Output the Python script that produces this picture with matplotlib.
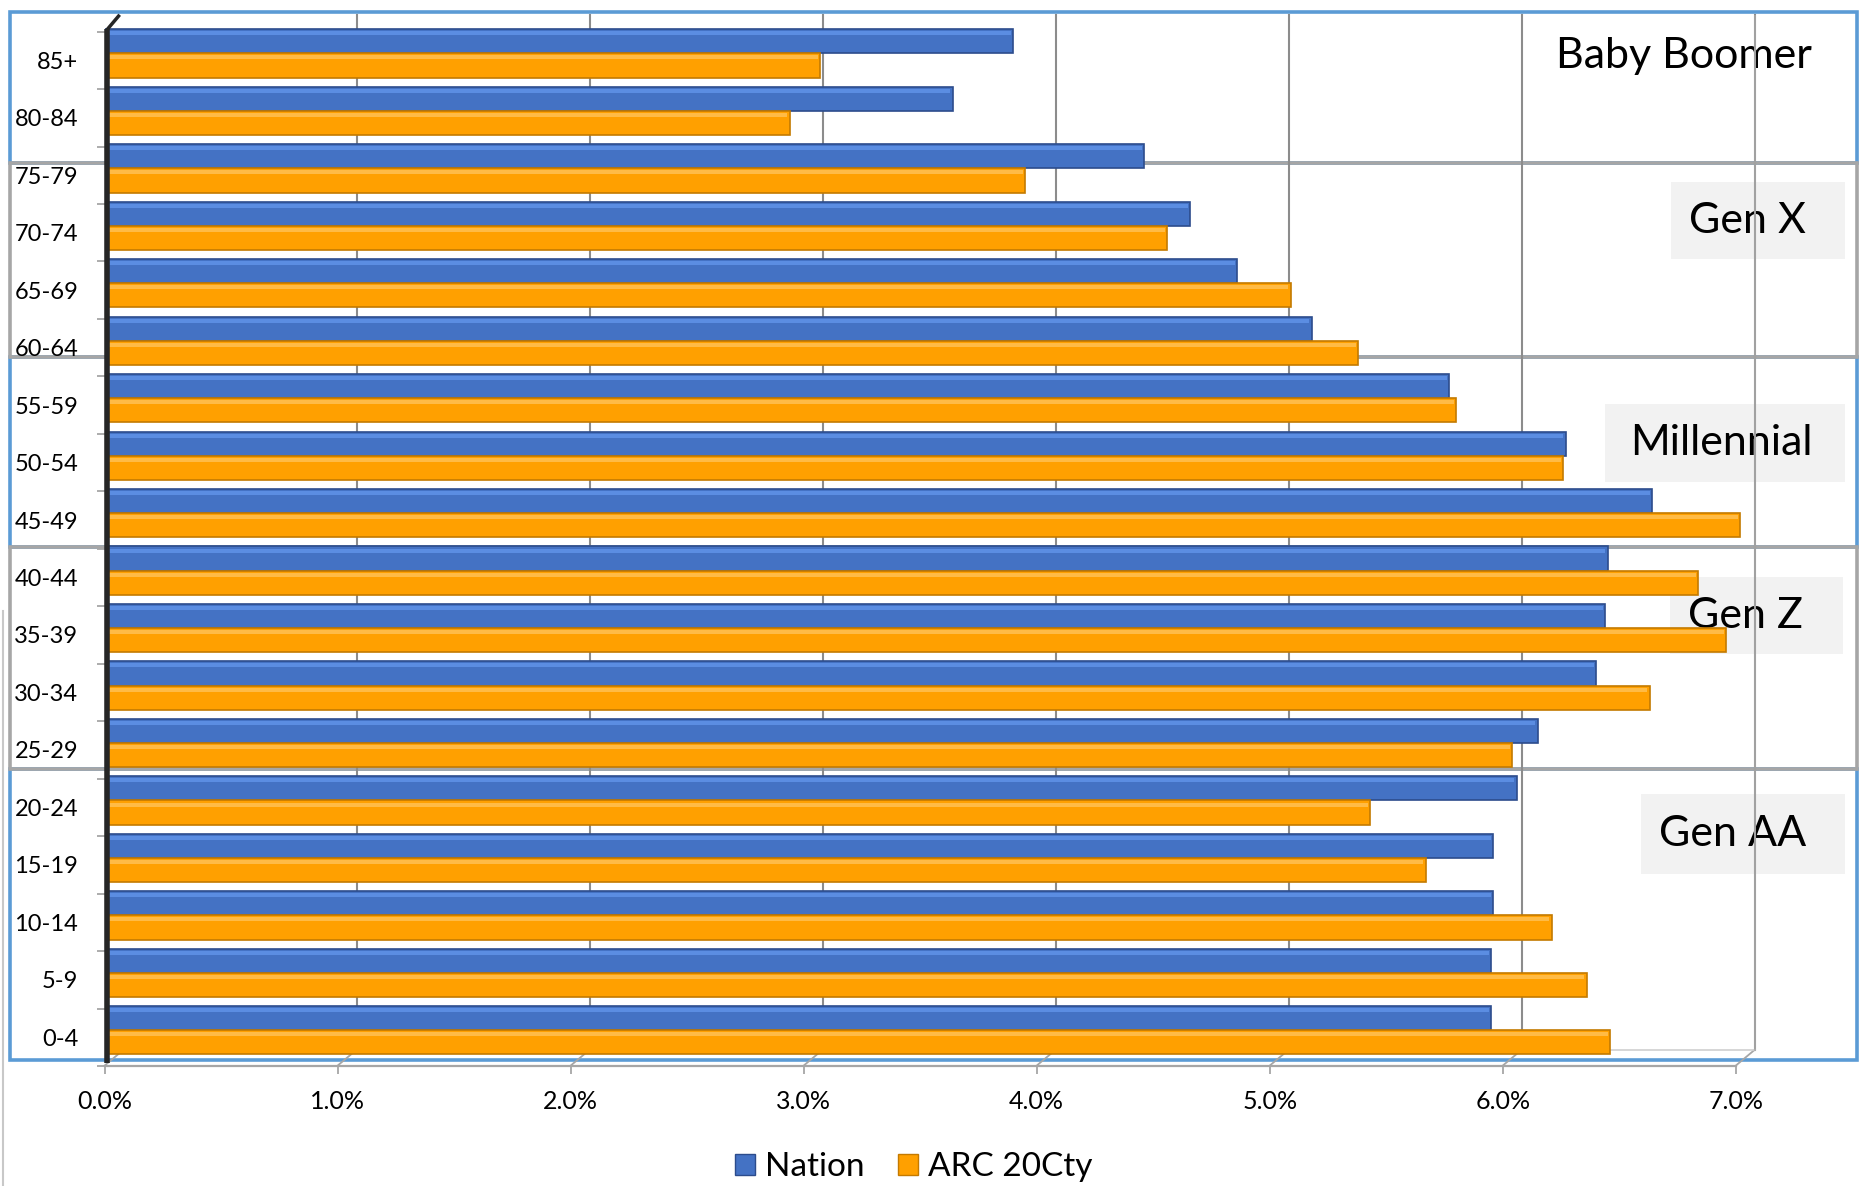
import numpy as np
import matplotlib.pyplot as plt
from matplotlib.patches import Rectangle, Patch
from matplotlib.lines import Line2D
from matplotlib.ticker import FuncFormatter

plt.rcParams['font.family'] = ['Lato', 'DejaVu Sans']

# age bands, bottom to top
ages = ['0-4', '5-9', '10-14', '15-19', '20-24', '25-29', '30-34', '35-39', '40-44',
        '45-49', '50-54', '55-59', '60-64', '65-69', '70-74', '75-79', '80-84', '85+']
# share of population, %
nation = [5.95, 5.95, 5.96, 5.96, 6.06, 6.15, 6.40, 6.44, 6.45,
          6.64, 6.27, 5.77, 5.18, 4.86, 4.66, 4.46, 3.64, 3.90]
arc = [6.46, 6.36, 6.21, 5.67, 5.43, 6.04, 6.63, 6.96, 6.84,
       7.02, 6.26, 5.80, 5.38, 5.09, 4.56, 3.95, 2.94, 3.07]
x_ticks = [0, 1, 2, 3, 4, 5, 6, 7]
gen_names = ['Baby Boomer', 'Gen X', 'Millennial', 'Gen Z', 'Gen AA']

# colours
BLUE, BLUE_EDGE, BLUE_HI = '#4472c4', '#2c4c8c', '#5b8de2'
ORANGE, ORANGE_EDGE, ORANGE_HI = '#ffa000', '#c47a00', '#ffbb45'
FRAME_BLUE, FRAME_GREY = '#5b9bd5', '#a6a6a6'

fig = plt.figure(figsize=(18.64, 11.86), dpi=100)
ax = fig.add_axes([0.0561, 0.1012, 0.8876, 0.8862])
ax.set_facecolor('none')

y = np.arange(len(ages))
h = 0.42
depth = 0.082       # fake 3d depth of the back wall, in x units
label_shift = 0.12  # tick labels sit a bit lower than the bars
y_lo, y_hi = -0.614, 17.67
floor_back = -0.336

ax.set_xlim(0, 7.1)
ax.set_ylim(y_lo, y_hi)

# generation frames (figure fractions), drawn behind the bars
frames = [(0.8627, 0.990, FRAME_BLUE), (0.5390, 0.6993, FRAME_BLUE), (0.1062, 0.3514, FRAME_BLUE),
          (0.6993, 0.8627, FRAME_GREY), (0.3514, 0.5390, FRAME_GREY)]
for b, t, c in frames:
    ax.add_patch(Rectangle((0.0051, b), 0.9911, t - b, transform=fig.transFigure,
                           fill=False, edgecolor=c, lw=2.6, clip_on=False, zorder=0.1))

boxes = [None,
         (0.8967, 0.7815, 0.9898, 0.8466),
         (0.8610, 0.5940, 0.9898, 0.6592),
         (0.8960, 0.4487, 0.9885, 0.5138),
         (0.8801, 0.2632, 0.9898, 0.3305)]
centers = [(0.9036, 0.9529), (0.9375, 0.8136), (0.9235, 0.6261), (0.9363, 0.4808), (0.9293, 0.2964)]
for name, box, (cx, cy) in zip(gen_names, boxes, centers):
    if box is not None:
        x0, y0, x1, y1 = box
        ax.add_patch(Rectangle((x0, y0), x1 - x0, y1 - y0, transform=fig.transFigure,
                               facecolor='#f2f2f2', edgecolor='none', clip_on=False, zorder=0.2))
    ax.text(cx, cy, name, transform=fig.transFigure, ha='center', va='center',
            fontsize=31, color='black', zorder=0.3)

# back wall gridlines and floor
for t in x_ticks[1:]:
    ax.plot([t + depth, t + depth], [floor_back, y_hi], color='#8c8c8c', lw=1.5, zorder=0.5, clip_on=False)
for t in x_ticks:
    ax.plot([t, t + depth], [y_lo, floor_back], color='#a6a6a6', lw=1.3, zorder=0.5, clip_on=False)
ax.plot([0, 7], [y_lo, y_lo], color='#a6a6a6', lw=1.6, zorder=0.5, clip_on=False)
ax.plot([depth, 7 + depth], [floor_back, floor_back], color='#d0d0d0', lw=1.2, zorder=0.5)
ax.plot([7 + depth, 7 + depth], [floor_back, y_hi], color='#a6a6a6', lw=1.2, zorder=0.5)

# left wall
ax.plot([0.012, 0.012], [y_lo + 0.05, y_hi - 0.25], color='#262626', lw=4, zorder=4,
        solid_capstyle='butt', clip_on=False)
ax.plot([0.012, 0.06], [y_hi - 0.25, y_hi - 0.02], color='#262626', lw=2.5, zorder=4, clip_on=False)

# bars
ax.barh(y + h / 2, nation, height=h, color=BLUE, edgecolor=BLUE_EDGE, lw=1.2, zorder=3)
ax.barh(y - h / 2, arc, height=h, color=ORANGE, edgecolor=ORANGE_EDGE, lw=1.2, zorder=3)
ax.barh(y + h - 0.07, np.array(nation) - 0.02, height=0.07, left=0.01, color=BLUE_HI, lw=0, zorder=3.1)
ax.barh(y - 0.07, np.array(arc) - 0.02, height=0.07, left=0.01, color=ORANGE_HI, lw=0, zorder=3.1)

# axes
for s in ax.spines.values():
    s.set_visible(False)
ax.set_xticks(x_ticks)
ax.xaxis.set_major_formatter(FuncFormatter(lambda v, p: f'{v:.1f}%'))
ax.tick_params(axis='x', length=6, width=1.3, color='#a6a6a6', pad=11, labelsize=18)
ax.set_yticks(y - label_shift)
ax.set_yticklabels(ages)
ax.set_yticks(np.arange(-0.5, len(ages), 1) - label_shift, minor=True)
ax.tick_params(axis='y', which='major', length=0, pad=19, labelsize=17)
ax.tick_params(axis='y', which='minor', length=6, width=1.3, color='#a6a6a6')

# legend
handles = [Patch(facecolor=BLUE, edgecolor=BLUE_EDGE, label='Nation'),
           Patch(facecolor=ORANGE, edgecolor=ORANGE_EDGE, label='ARC 20Cty')]
fig.legend(handles=handles, loc='center', bbox_to_anchor=(0.49, 0.016), ncol=2, frameon=False,
           fontsize=24, handlelength=0.6, handleheight=0.6, handletextpad=0.3, columnspacing=1.0)

# faint edge of the source image
fig.add_artist(Line2D([0.0015, 0.0015], [0.0, 0.485], color='#c8c8c8', lw=1.5))

fig.savefig('out.png', dpi=100)
